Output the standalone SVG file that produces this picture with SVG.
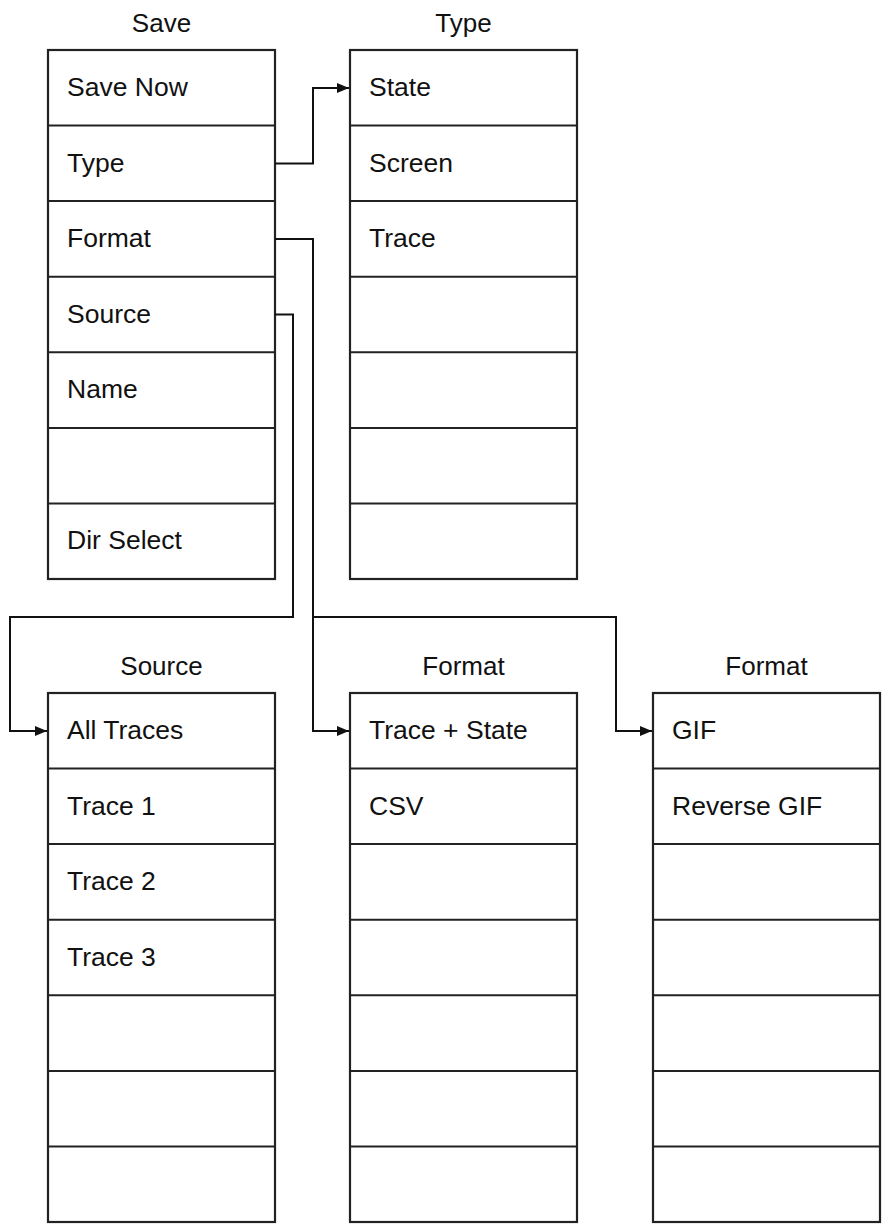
<svg xmlns="http://www.w3.org/2000/svg" width="883" height="1231" viewBox="0 0 883 1231">
<defs>
<style>
.box{fill:#fff;stroke:#222;stroke-width:2.2}
.div{stroke:#222;stroke-width:2}
.t{font-family:"Liberation Sans",Arial,sans-serif;font-size:26.5px;fill:#111}
.h{font-family:"Liberation Sans",Arial,sans-serif;font-size:26px;fill:#111;text-anchor:middle}
.c{fill:none;stroke:#111;stroke-width:2}
</style>
<marker id="arr" markerUnits="userSpaceOnUse" markerWidth="13" markerHeight="11" refX="12" refY="5" orient="auto">
<path d="M0,0 L12,5 L0,10 z" fill="#111"/>
</marker>
</defs>
<rect width="883" height="1231" fill="#fff"/>
<g id="save">
<text class="h" x="161.5" y="32">Save</text>
<rect class="box" x="48" y="50" width="227" height="529"/>
<g class="div">
<line x1="48" y1="125.6" x2="275" y2="125.6"/>
<line x1="48" y1="201.1" x2="275" y2="201.1"/>
<line x1="48" y1="276.7" x2="275" y2="276.7"/>
<line x1="48" y1="352.3" x2="275" y2="352.3"/>
<line x1="48" y1="427.9" x2="275" y2="427.9"/>
<line x1="48" y1="503.4" x2="275" y2="503.4"/>
</g>
<text class="t" x="67" y="96">Save Now</text>
<text class="t" x="67" y="171.6">Type</text>
<text class="t" x="67" y="247.1">Format</text>
<text class="t" x="67" y="322.7">Source</text>
<text class="t" x="67" y="398.3">Name</text>
<text class="t" x="67" y="549.4">Dir Select</text>
</g>
<g id="type">
<text class="h" x="463.5" y="32">Type</text>
<rect class="box" x="350" y="50" width="227" height="529"/>
<g class="div">
<line x1="350" y1="125.6" x2="577" y2="125.6"/>
<line x1="350" y1="201.1" x2="577" y2="201.1"/>
<line x1="350" y1="276.7" x2="577" y2="276.7"/>
<line x1="350" y1="352.3" x2="577" y2="352.3"/>
<line x1="350" y1="427.9" x2="577" y2="427.9"/>
<line x1="350" y1="503.4" x2="577" y2="503.4"/>
</g>
<text class="t" x="369" y="96">State</text>
<text class="t" x="369" y="171.6">Screen</text>
<text class="t" x="369" y="247.1">Trace</text>
</g>
<g id="source">
<text class="h" x="161.5" y="675">Source</text>
<rect class="box" x="48" y="693" width="227" height="529"/>
<g class="div">
<line x1="48" y1="768.6" x2="275" y2="768.6"/>
<line x1="48" y1="844.1" x2="275" y2="844.1"/>
<line x1="48" y1="919.7" x2="275" y2="919.7"/>
<line x1="48" y1="995.3" x2="275" y2="995.3"/>
<line x1="48" y1="1070.9" x2="275" y2="1070.9"/>
<line x1="48" y1="1146.4" x2="275" y2="1146.4"/>
</g>
<text class="t" x="67" y="739">All Traces</text>
<text class="t" x="67" y="814.6">Trace 1</text>
<text class="t" x="67" y="890.1">Trace 2</text>
<text class="t" x="67" y="965.7">Trace 3</text>
</g>
<g id="format1">
<text class="h" x="463.5" y="675">Format</text>
<rect class="box" x="350" y="693" width="227" height="529"/>
<g class="div">
<line x1="350" y1="768.6" x2="577" y2="768.6"/>
<line x1="350" y1="844.1" x2="577" y2="844.1"/>
<line x1="350" y1="919.7" x2="577" y2="919.7"/>
<line x1="350" y1="995.3" x2="577" y2="995.3"/>
<line x1="350" y1="1070.9" x2="577" y2="1070.9"/>
<line x1="350" y1="1146.4" x2="577" y2="1146.4"/>
</g>
<text class="t" x="369" y="739">Trace + State</text>
<text class="t" x="369" y="814.6">CSV</text>
</g>
<g id="format2">
<text class="h" x="766.5" y="675">Format</text>
<rect class="box" x="653" y="693" width="227" height="529"/>
<g class="div">
<line x1="653" y1="768.6" x2="880" y2="768.6"/>
<line x1="653" y1="844.1" x2="880" y2="844.1"/>
<line x1="653" y1="919.7" x2="880" y2="919.7"/>
<line x1="653" y1="995.3" x2="880" y2="995.3"/>
<line x1="653" y1="1070.9" x2="880" y2="1070.9"/>
<line x1="653" y1="1146.4" x2="880" y2="1146.4"/>
</g>
<text class="t" x="672" y="739">GIF</text>
<text class="t" x="672" y="814.6">Reverse GIF</text>
</g>
<g id="connectors">
<polyline class="c" points="275,163.4 313,163.4 313,88 349,88" marker-end="url(#arr)"/>
<polyline class="c" points="275,239 313,239 313,731 349,731" marker-end="url(#arr)"/>
<polyline class="c" points="313,617 616,617 616,731 652,731" marker-end="url(#arr)"/>
<polyline class="c" points="275,314.5 293,314.5 293,617 10,617 10,731 47,731" marker-end="url(#arr)"/>
</g>
</svg>
